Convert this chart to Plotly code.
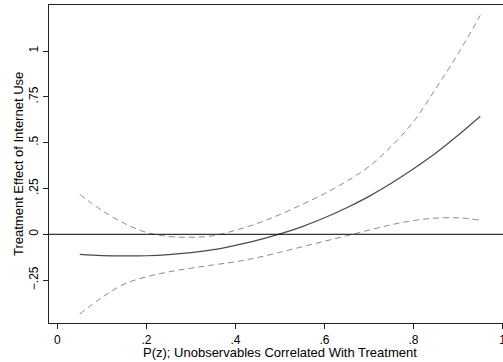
import plotly.graph_objects as go

p_z = [0.05, 0.10, 0.15, 0.20, 0.25, 0.30, 0.35, 0.40, 0.45, 0.50,
       0.55, 0.60, 0.65, 0.70, 0.75, 0.80, 0.85, 0.90, 0.95]
effect = [-0.110, -0.116, -0.118, -0.117, -0.111, -0.100, -0.084, -0.060, -0.032, 0.002,
          0.042, 0.090, 0.145, 0.207, 0.278, 0.357, 0.443, 0.540, 0.644]
upper = [0.218, 0.130, 0.060, 0.010, -0.012, -0.016, -0.008, 0.022, 0.060, 0.108,
         0.163, 0.222, 0.290, 0.370, 0.480, 0.615, 0.795, 0.985, 1.195]
lower = [-0.436, -0.345, -0.272, -0.232, -0.205, -0.185, -0.167, -0.150, -0.127, -0.098,
         -0.068, -0.038, -0.008, 0.023, 0.052, 0.075, 0.088, 0.090, 0.077]

x_ticks = [0, 0.2, 0.4, 0.6, 0.8, 1]
x_labels = ["0", ".2", ".4", ".6", ".8", "1"]
y_ticks = [-0.25, 0, 0.25, 0.5, 0.75, 1]
y_labels = ["\u2212.25", "0", ".25", ".5", ".75", "1"]

FONT = "Liberation Sans, Arial, sans-serif"
W, H = 503, 362
ML, MR, MT, MB = 49, 0, 5, 39

fig = go.Figure()
fig.add_trace(go.Scatter(x=p_z, y=upper, mode="lines", line=dict(color="#8c8c8c", width=1, dash="6px,4px", shape="spline"), showlegend=False))
fig.add_trace(go.Scatter(x=p_z, y=lower, mode="lines", line=dict(color="#8c8c8c", width=1, dash="6px,4px", shape="spline"), showlegend=False))
fig.add_trace(go.Scatter(x=p_z, y=effect, mode="lines", line=dict(color="#4a4a4a", width=1.2, shape="spline"), showlegend=False))

fig.add_shape(type="line", xref="paper", x0=0, x1=1, yref="y", y0=0, y1=0,
              line=dict(color="black", width=1))

pw = W - ML - MR
ph = H - MT - MB
fig.add_annotation(text="P(z); Unobservables Correlated With Treatment",
                   xref="paper", yref="paper", x=(280 - ML) / pw, y=-(352 - (H - MB)) / ph,
                   showarrow=False, xanchor="center", yanchor="middle",
                   font=dict(family=FONT, size=13, color="black"))
fig.add_annotation(text="Treatment Effect of Internet Use",
                   xref="paper", yref="paper", x=-(ML - 18) / pw, y=0.5,
                   showarrow=False, xanchor="center", yanchor="middle", textangle=-90,
                   font=dict(family=FONT, size=13, color="black"))

fig.update_layout(
    width=W, height=H,
    margin=dict(l=ML, r=MR, t=MT, b=MB),
    paper_bgcolor="white", plot_bgcolor="white",
    font=dict(family=FONT, size=12, color="black"),
    xaxis=dict(range=[-0.019, 1.001], tickvals=x_ticks, ticktext=x_labels, automargin=False,
               ticklabeloverflow="allow",
               showgrid=False, zeroline=False, showline=True, linecolor="#222", linewidth=1.3,
               mirror=True, ticks="outside", ticklen=5, tickcolor="#222"),
    yaxis=dict(range=[-0.484, 1.251], tickvals=y_ticks, ticktext=y_labels, tickangle=-90,
               automargin=False,
               showgrid=False, zeroline=False, showline=True, linecolor="#222", linewidth=1.3,
               ticks="outside", ticklen=5, tickcolor="#222"),
)

fig.write_html("out.html", config={"displayModeBar": False},
               post_script="document.body.style.margin='0';document.body.style.overflow='hidden';")
